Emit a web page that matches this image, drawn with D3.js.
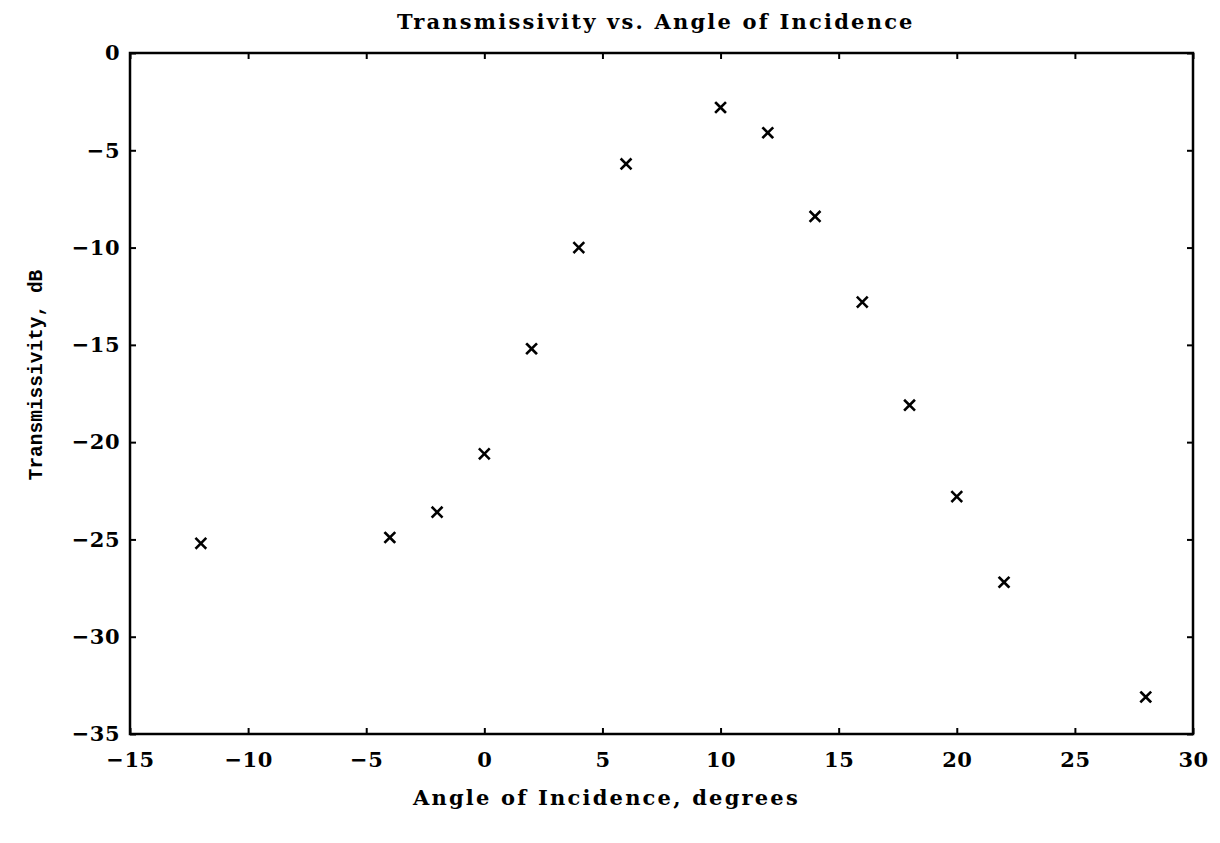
<!DOCTYPE html>
<html>
<head>
<meta charset="utf-8">
<script src="https://cdn.jsdelivr.net/npm/d3@7"></script>
<style>
  html, body { margin: 0; padding: 0; background: #fff; }
  svg { display: block; }
</style>
</head>
<body>
<svg id="chart" width="1220" height="843"></svg>
<script>
// Measured transmissivity at each angle of incidence
const angles = [-12, -4, -2, 0, 2, 4, 6, 10, 12, 14, 16, 18, 20, 22, 28];
const transmissivity = [-25.2, -24.9, -23.6, -20.6, -15.2, -10.0, -5.7, -2.8, -4.1, -8.4, -12.8, -18.1, -22.8, -27.2, -33.1];
const xTicks = [-15, -10, -5, 0, 5, 10, 15, 20, 25, 30];
const yTicks = [0, -5, -10, -15, -20, -25, -30, -35];

const svg = d3.select("#chart");
const plotLeft = 130, plotRight = 1193, plotTop = 53, plotBottom = 734;

const x = d3.scaleLinear().domain([-15, 30]).range([plotLeft, plotRight]);
const y = d3.scaleLinear().domain([-35, 0]).range([plotBottom, plotTop]);

const serif = "'DejaVu Serif', serif";
const tickLen = 6;
const minusFmt = d => d < 0 ? "\u2212" + Math.abs(d) : d;

// Frame
svg.append("rect")
  .attr("x", plotLeft).attr("y", plotTop)
  .attr("width", plotRight - plotLeft).attr("height", plotBottom - plotTop)
  .attr("fill", "none").attr("stroke", "#000").attr("stroke-width", 2.5);

// Axes with inward ticks on all four sides
const styleAxis = g => {
  g.select(".domain").remove();
  g.selectAll(".tick line").attr("stroke", "#000").attr("stroke-width", 2);
  g.selectAll(".tick text")
    .attr("fill", "#000")
    .style("font-family", serif)
    .style("font-weight", "bold")
    .style("font-size", "21px")
    .style("letter-spacing", "0.5px");
};

svg.append("g")
  .attr("transform", `translate(0,${plotBottom})`)
  .call(d3.axisBottom(x).tickValues(xTicks).tickSize(-tickLen).tickPadding(18).tickFormat(minusFmt))
  .call(styleAxis);

svg.append("g")
  .attr("transform", `translate(0,${plotTop})`)
  .call(d3.axisTop(x).tickValues(xTicks).tickSize(-tickLen).tickFormat(""))
  .call(styleAxis);

svg.append("g")
  .attr("transform", `translate(${plotLeft},0)`)
  .call(d3.axisLeft(y).tickValues(yTicks).tickSize(-tickLen).tickPadding(10).tickFormat(minusFmt))
  .call(styleAxis);

svg.append("g")
  .attr("transform", `translate(${plotRight},0)`)
  .call(d3.axisRight(y).tickValues(yTicks).tickSize(-tickLen).tickFormat(""))
  .call(styleAxis);

// Data markers drawn as "x" crosses
const r = 4.5;
const pts = angles.map((a, i) => ({ a, t: transmissivity[i] }));
const marks = svg.append("g").attr("stroke", "#000").attr("stroke-width", 2.6).attr("stroke-linecap", "square");
marks.selectAll("path")
  .data(pts)
  .join("path")
  .attr("d", d => {
    const cx = x(d.a), cy = y(d.t);
    return `M${cx - r},${cy - r}L${cx + r},${cy + r}M${cx - r},${cy + r}L${cx + r},${cy - r}`;
  });

// Titles
const labelStyle = sel => sel
  .style("font-family", serif)
  .style("font-weight", "bold")
  .style("font-size", "21px")
  .style("letter-spacing", "2.2px");

svg.append("text")
  .attr("x", 397).attr("y", 29)
  .attr("text-anchor", "start")
  .call(labelStyle)
  .text("Transmissivity vs. Angle of Incidence");

svg.append("text")
  .attr("x", 413).attr("y", 805)
  .attr("text-anchor", "start")
  .call(labelStyle)
  .text("Angle of Incidence, degrees");

svg.append("text")
  .attr("transform", "translate(37,375) rotate(-90)")
  .attr("text-anchor", "middle")
  .attr("dominant-baseline", "middle")
  .style("font-family", "'Liberation Mono', monospace")
  .style("font-weight", "bold")
  .style("font-size", "19.5px")
  .text("Transmissivity, dB");
</script>
</body>
</html>
